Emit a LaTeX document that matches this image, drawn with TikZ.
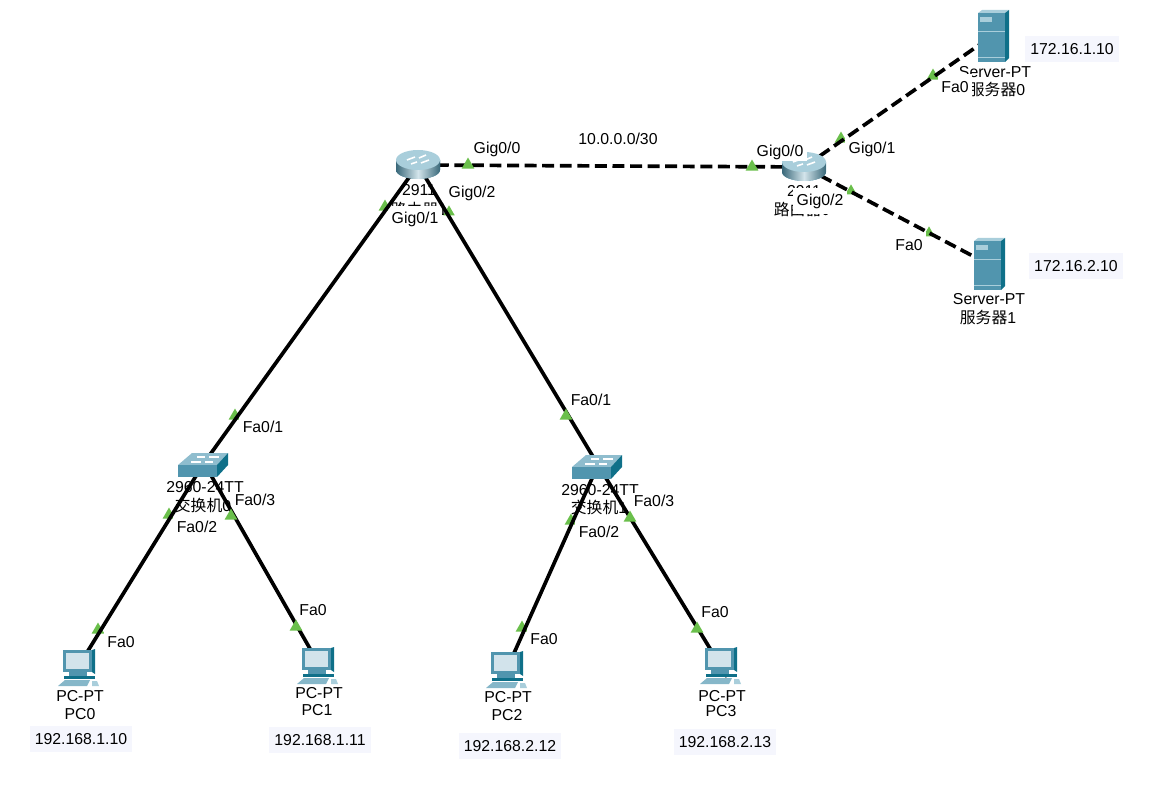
\documentclass[tikz,border=0pt]{standalone}
\usepackage{fontspec}
\setmainfont{Liberation Sans}
\newfontfamily\cjk{Noto Sans CJK SC}
\usetikzlibrary{shapes.geometric}
\definecolor{portgreen}{HTML}{6ABF4B}
\definecolor{iplight}{HTML}{F5F6FD}
\definecolor{devteal}{HTML}{5195AE}
\definecolor{devdark}{HTML}{0F7089}
\definecolor{devlight}{HTML}{A9CEDB}
\definecolor{screenblue}{HTML}{D2E3EB}
\tikzset{
  dev/.style={inner sep=0pt,minimum size=1pt},
  solidlink/.style={line width=2.1pt,black},
  dashlink/.style={line width=2.1pt,black,dash pattern=on 6.8pt off 3.2pt},
  port/.style={regular polygon,regular polygon sides=3,fill=portgreen,inner sep=0pt,minimum size=8.5pt},
  smallport/.style={port,minimum size=7.5pt},
  txt/.style={inner sep=0pt,font=\fontsize{9}{10}\selectfont},
  covertxt/.style={txt,fill=white,inner xsep=2pt,inner ysep=1pt},
  tallcover/.style={covertxt,minimum height=15pt},
  iptxt/.style={txt,fill=iplight,inner xsep=3pt,inner ysep=4pt},
  routericon/.pic={
    \fill[devteal,left color=devteal!70!black,right color=devteal!70!black,middle color=white!75!devteal]
      (-22,-5) -- (-22,5) arc[start angle=180,end angle=360,x radius=22,y radius=-9] -- (22,-5) -- cycle;
    \fill[devlight] (0,-5) ellipse[x radius=22,y radius=10];
    \draw[white,line width=.9pt] (-11,-5) -- (-3,-8) (3,-2) -- (11,-5) (-7,-1) -- (-1,-3) (1,-7) -- (8,-10);
  },
  switchicon/.pic={
    \fill[devlight!70!devteal] (-27,-5) -- (12,-5) -- (23,-17) -- (-13,-17) -- cycle;
    \fill[devteal] (-27,-5) rectangle (12,7);
    \fill[devdark] (12,-5) -- (23,-17) -- (23,-5) -- (12,7) -- cycle;
    \draw[white,line width=.6pt] (-14,-8) -- (-4,-8) (0,-8) -- (8,-8) (-8,-13) -- (0,-13) (4,-13) -- (14,-13);
  },
  servericon/.pic={
    \fill[devlight] (-14,-23) -- (-10,-26) -- (17,-26) -- (13,-23) -- cycle;
    \fill[devdark] (13,-23) -- (17,-26) -- (17,22) -- (13,26) -- cycle;
    \fill[devteal] (-14,-23) rectangle (13,26);
    \fill[devlight] (-12,-19) rectangle (0,-14);
    \draw[devlight,line width=.3pt] (-14,-5) -- (13,-5) (-14,21) -- (13,21);
  },
  pcicon/.pic={
    \fill[devteal] (-14,-25) rectangle (15,-3);
    \fill[devdark] (15,-25) -- (18,-26) -- (18,-1) -- (15,-3) -- cycle;
    \fill[screenblue] (-11,-22) rectangle (12,-6);
    \fill[devteal] (-8,-3) rectangle (10,1);
    \fill[devdark] (-13,1) rectangle (18,4);
    \fill[devlight!60!devteal] (-12,5) -- (13,5) -- (10,11) -- (-19,11) -- cycle;
    \fill[devlight] (15,6) -- (20,6) -- (22,11) -- (15,11) -- cycle;
  },
}
\begin{document}
\begin{tikzpicture}[x=0.02cm,y=-0.02cm]
\useasboundingbox (0,0) rectangle (1152,810);
% devices
\node (r0) at (418,165) [dev] {};
\node (r1) at (804,167) [dev] {};
\node (sw0) at (204,463) [dev] {};
\node (sw1) at (598,465) [dev] {};
\node (sv0) at (992,36) [dev] {};
\node (sv1) at (988,264) [dev] {};
\node (pc0) at (73,675) [dev] {};
\node (pc1) at (325,675) [dev] {};
\node (pc2) at (502,680) [dev] {};
\node (pc3) at (728,678) [dev] {};

% device labels
\node (r0type) at (419,190) [txt] {2911};
\node (r0name) at (419,209) [txt] {\cjk 路由器1};
\node (r1type) at (804,191) [txt] {2911};
\node (r1name) at (802,209) [txt] {\cjk 路由器0};
\node (sw0type) at (205,487) [txt] {2960-24TT};
\node (sw0name) at (203,505) [txt,fill=white] {{\cjk 交换机}0};
\node (sw1type) at (600,490) [txt] {2960-24TT};
\node (sw1name) at (599,507) [txt,fill=white] {{\cjk 交换机}1};
\node (sv0type) at (995,72) [txt] {Server-PT};
\node (sv0name) at (997,89) [txt,fill=white] {{\cjk 服务器}0};
\node (sv1type) at (989,299) [txt] {Server-PT};
\node (sv1name) at (988,317) [txt] {{\cjk 服务器}1};
\node (pc0type) at (80,696) [txt] {PC-PT};
\node (pc0name) at (80,714) [txt] {PC0};
\node (pc1type) at (319,693) [txt] {PC-PT};
\node (pc1name) at (317,710) [txt] {PC1};
\node (pc2type) at (508,697) [txt] {PC-PT};
\node (pc2name) at (507,715) [txt] {PC2};
\node (pc3type) at (722,696) [txt] {PC-PT};
\node (pc3name) at (721,711) [txt] {PC3};

% port marks under the port labels
\node (t3) at (385,207) [port] {};
\node (t4) at (449,212) [smallport] {};
\node (t5) at (841,139) [port] {};
\node (t6) at (851,191) [smallport] {};
\node (t7) at (933,76) [port] {};
\node (t8) at (929,233) [smallport] {};
\node (t9) at (235,416) [port] {};
\node (t11) at (169,515) [port] {};
\node (t13) at (571,521) [port] {};
\node (t15) at (98,630) [port] {};
\node (t17) at (522,628) [port] {};

% port labels
\node (l00) at (497,149) [covertxt] {Gig0/0};
\node (l01) at (415,219) [tallcover] {Gig0/1};
\node (l02) at (472,193) [covertxt] {Gig0/2};
\node (l11) at (872,149) [tallcover] {Gig0/1};
\node (l12) at (820,201) [tallcover] {Gig0/2};
\node (lsv0) at (955,87) [tallcover] {Fa0};
\node (lsv1) at (909,245) [tallcover] {Fa0};
\node (ls00) at (263,427) [tallcover] {Fa0/1};
\node (ls02) at (197,527) [tallcover] {Fa0/2};
\node (ls03) at (255,500) [covertxt] {Fa0/3};
\node (ls10) at (591,400) [covertxt] {Fa0/1};
\node (ls12) at (599,532) [tallcover] {Fa0/2};
\node (ls13) at (654,501) [covertxt] {Fa0/3};
\node (lp0) at (121,642) [tallcover] {Fa0};
\node (lp1) at (313,610) [covertxt] {Fa0};
\node (lp2) at (544,639) [tallcover] {Fa0};
\node (lp3) at (715,612) [covertxt] {Fa0};

% links
\draw[dashlink] (r0) -- (r1);
\draw[dashlink] (r1) -- (sv0);
\draw[dashlink] (r1) -- (sv1);
\draw[solidlink] (r0) -- (sw0);
\draw[solidlink] (r0) -- (sw1);
\draw[solidlink] (sw0) -- (pc0);
\draw[solidlink] (sw0) -- (pc1);
\draw[solidlink] (sw1) -- (pc2);
\draw[solidlink] (sw1) -- (pc3);

% port marks over the links
\node (t1) at (468,165) [port] {};
\node (t2) at (752,167) [port] {};
\node (t10) at (566,416) [port] {};
\node (t12) at (231,516) [port] {};
\node (t14) at (630,518) [port] {};
\node (t16) at (296,627) [port] {};
\node (t18) at (697,629) [port] {};

% icons
\pic at (418,165) {routericon};
\pic at (804,167) {routericon};
\pic at (205,470) {switchicon};
\pic at (599,472) {switchicon};
\pic at (992,36) {servericon};
\pic at (988,264) {servericon};
\pic at (77,675) {pcicon};
\pic at (316,673) {pcicon};
\pic at (505,677) {pcicon};
\pic at (719,673) {pcicon};

% labels lying over the icons
\node (l10) at (780,152) [covertxt] {Gig0/0};
\node (net) at (618,139) [txt] {10.0.0.0/30};

% addresses
\node (ip0) at (1072,49) [iptxt] {172.16.1.10};
\node (ip1) at (1076,266) [iptxt] {172.16.2.10};
\node (ip2) at (81,739) [iptxt] {192.168.1.10};
\node (ip3) at (320,740) [iptxt] {192.168.1.11};
\node (ip4) at (510,746) [iptxt] {192.168.2.12};
\node (ip5) at (725,742) [iptxt] {192.168.2.13};
\end{tikzpicture}
\end{document}
